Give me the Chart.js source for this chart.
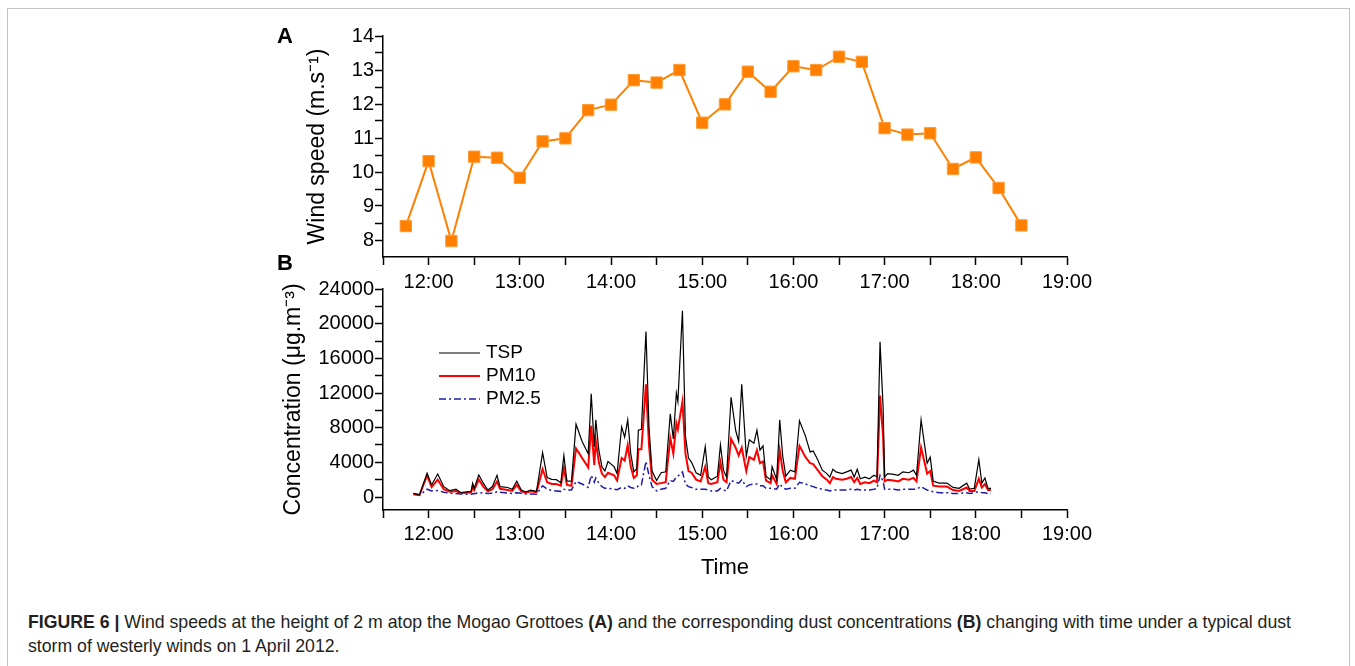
<!DOCTYPE html>
<html>
<head>
<meta charset="utf-8">
<script src="https://cdn.jsdelivr.net/npm/chart.js@4.4.1/dist/chart.umd.min.js"></script>
<style>
  body { margin: 0; background: #fff; width: 1355px; height: 666px; overflow: hidden; position: relative;
         font-family: "Liberation Sans", Arial, sans-serif; }
  #frame { position: absolute; left: 7px; top: 8px; width: 1341px; height: 700px; border: 1px solid #c4c4c4; }
  canvas { position: absolute; left: 0; }
  #chartA { top: 0; }
  #chartB { top: 260px; }
  .tag { position: absolute; left: 277px; font-weight: bold; font-size: 22px; line-height: 22px; color: #000; }
  #caption { position: absolute; left: 28px; top: 610px; font-family: "Liberation Sans", Arial, sans-serif;
             font-size: 18.5px; line-height: 24px; color: #231f20; white-space: nowrap; transform-origin: left top; }
</style>
</head>
<body>
<div id="frame"></div>
<canvas id="chartA" width="1355" height="300"></canvas>
<canvas id="chartB" width="1355" height="340"></canvas>
<div class="tag" style="top:25px">A</div>
<div class="tag" style="top:252px">B</div>
<div id="caption"><span id="capLine1"><b>FIGURE 6 |</b> Wind speeds at the height of 2 m atop the Mogao Grottoes <b>(A)</b> and the corresponding dust concentrations <b>(B)</b> changing with time under a typical dust</span><br>storm of westerly winds on 1 April 2012.</div>

<script>
// panel A: wind speed every 15 min (minutes after midnight)
const windTimes = [705, 720, 735, 750, 765, 780, 795, 810, 825, 840, 855, 870, 885, 900,
  915, 930, 945, 960, 975, 990, 1005, 1020, 1035, 1050, 1065, 1080, 1095, 1110];
const windSpeed = [8.41, 10.32, 7.97, 10.45, 10.42, 9.83, 10.9, 10.99, 11.82, 11.98, 12.7, 12.63, 13.0, 11.45,
  11.99, 12.95, 12.36, 13.11, 13.0, 13.39, 13.24, 11.29, 11.1, 11.14, 10.09, 10.43, 9.53, 8.43];

// panel B: dust concentrations (ug/m3)
const concTimes = [710, 714, 719, 722, 726, 730, 734, 738, 741, 745, 748, 749, 750, 753, 756, 759, 762, 765, 767, 772,
  775, 778, 781, 784, 787, 791, 795, 798, 801, 804, 807, 809, 811, 814, 817, 821, 825, 827, 829, 830,
  832, 834, 836, 838, 842, 844, 847, 849, 851, 853, 855, 857, 858, 860, 863, 865, 867, 870, 873, 876,
  879, 881, 883, 884, 887, 889, 891, 893, 896, 899, 902, 904, 906, 910, 912, 914, 916, 919, 922, 924,
  926, 929, 931, 934, 936, 938, 940, 942, 945, 946, 949, 951, 953, 955, 958, 961, 964, 968, 971, 973,
  976, 979, 982, 984, 986, 988, 992, 995, 998, 1000, 1002, 1004, 1007, 1010, 1013, 1015, 1017, 1019, 1020, 1022,
  1026, 1029, 1032, 1036, 1039, 1041, 1044, 1048, 1050, 1052, 1056, 1061, 1065, 1069, 1074, 1076, 1079, 1082, 1084, 1086,
  1088, 1090];
const tsp = [420, 250, 2740, 1390, 2660, 1190, 730, 900, 520, 600, 640, 1580, 1000, 2540, 1600, 800, 1200, 2500, 1200, 1100,
  900, 1810, 800, 580, 800, 650, 5120, 2230, 2040, 2000, 1650, 4780, 1850, 1800, 8400, 6400, 5000, 11900, 5800, 8900,
  5400, 3500, 3000, 4100, 3500, 2700, 8100, 6900, 8900, 5000, 2900, 3300, 7700, 7800, 19100, 8000, 3000, 1900, 2800, 2900,
  9600, 6700, 12000, 11000, 21500, 7000, 4500, 4000, 2800, 2500, 5800, 2300, 2000, 2400, 6000, 3100, 2300, 11500, 7700, 6400,
  13000, 4700, 6600, 6200, 7700, 5400, 5900, 2400, 2000, 3500, 2000, 8900, 4700, 2400, 3100, 2900, 8800, 7000, 5200, 5300,
  4300, 3100, 2700, 2300, 3200, 2900, 2700, 2900, 3100, 2300, 3200, 2100, 2300, 2100, 2500, 2300, 17900, 10400, 2300, 2700,
  2600, 2500, 2900, 2800, 3100, 2500, 8900, 3900, 4600, 1800, 1600, 1600, 1100, 1000, 1600, 900, 1000, 4300, 1600, 2200,
  1000, 1000];
const pm10 = [380, 230, 2500, 1150, 2000, 900, 600, 700, 450, 500, 550, 1300, 800, 2000, 1200, 650, 900, 1800, 950, 800,
  700, 1400, 650, 500, 650, 550, 3200, 1700, 1500, 1500, 1300, 3300, 1400, 1300, 5600, 4500, 3400, 8200, 3700, 6500,
  4000, 2700, 2300, 2800, 2500, 1900, 4500, 4200, 6000, 3500, 2200, 2500, 5500, 5500, 13000, 6000, 2000, 1500, 1600, 1700,
  6800, 5000, 8500, 7800, 11000, 5000, 3000, 2800, 2000, 1800, 3500, 1600, 1500, 1700, 4000, 2000, 1700, 6700, 5700, 4800,
  5700, 3000, 4600, 4300, 5400, 3900, 4100, 1900, 1600, 2500, 1500, 5400, 3000, 1700, 2200, 2100, 5900, 4600, 3900, 3800,
  3100, 2400, 2000, 1600, 2300, 2100, 2000, 2100, 2300, 1700, 2200, 1500, 1700, 1600, 1900, 1700, 11700, 7000, 1800, 2000,
  1900, 1800, 2100, 2000, 2200, 1800, 5700, 2700, 3000, 1300, 1200, 1200, 800, 700, 1100, 700, 700, 2100, 1100, 1500,
  800, 800];
const pm25 = [300, 200, 900, 700, 750, 550, 450, 400, 350, 330, 330, 380, 380, 500, 450, 400, 420, 600, 550, 450,
  400, 500, 420, 350, 350, 330, 1300, 900, 750, 700, 650, 900, 800, 800, 1800, 1500, 1100, 2500, 1700, 2200,
  1600, 1200, 1000, 1000, 900, 850, 1100, 1000, 1300, 1100, 1000, 1100, 1300, 1400, 4100, 2500, 1200, 700, 900, 1000,
  1900, 1800, 2300, 2400, 2900, 1500, 1200, 1100, 900, 900, 900, 800, 700, 700, 1000, 800, 700, 1900, 1700, 1600,
  2000, 1200, 1400, 1500, 1500, 1300, 1300, 1000, 1000, 1000, 900, 1500, 1100, 900, 1000, 1000, 1700, 1500, 1300, 1200,
  1000, 900, 800, 700, 800, 800, 800, 800, 900, 800, 900, 800, 800, 800, 900, 1000, 2500, 1800, 900, 900,
  900, 800, 900, 900, 900, 900, 1200, 800, 700, 600, 500, 500, 400, 400, 500, 400, 500, 600, 500, 500,
  400, 400];

// axes: labelled ticks, with one unlabelled tick halfway between each pair
const hourTicks = [720, 780, 840, 900, 960, 1020, 1080, 1140];
const windTicks = [8, 9, 10, 11, 12, 13, 14];
const concTicks = [0, 4000, 8000, 12000, 16000, 20000, 24000];

const FONT = 'Liberation Sans, Arial, sans-serif';

// squeeze the caption's first line to the width it has in the figure
const capLine = document.getElementById('capLine1');
document.getElementById('caption').style.transform =
  'scaleX(' + (1263 / capLine.getBoundingClientRect().width) + ')';

function withMinor(major, firstMinor) {
  const out = [];
  const half = (major[1] - major[0]) / 2;
  if (firstMinor) out.push({ value: major[0] - half });
  major.forEach((v, i) => {
    out.push({ value: v });
    if (i < major.length - 1) out.push({ value: v + half });
  });
  return out;
}

function clockLabel(v) {
  if (!hourTicks.includes(v)) return '';
  return (v / 60) + ':00';
}

function timeAxis(height, pad) {
  return {
    type: 'linear', min: 690, max: 1140,
    afterBuildTicks: s => { s.ticks = withMinor(hourTicks, true); },
    ticks: { autoSkip: false, maxRotation: 0, color: '#000', padding: pad,
             font: { family: FONT, size: 20 }, callback: clockLabel },
    grid: { drawOnChartArea: false, color: '#000', tickLength: 8, tickWidth: 1.5 },
    border: { color: '#000', width: 1.5 },
    afterFit: s => { s.height = height; }
  };
}

function valueAxis(min, max, keep, width, title) {
  return {
    min: min, max: max,
    afterBuildTicks: s => { s.ticks = withMinor(keep, false); },
    ticks: { autoSkip: false, color: '#000', padding: 1,
             font: { family: FONT, size: 20 },
             callback: v => keep.includes(v) ? String(v) : '' },
    grid: { drawOnChartArea: false, color: '#000', tickLength: 8, tickWidth: 1.5 },
    border: { color: '#000', width: 1.5 },
    title: { display: true, text: title, color: '#000', font: { family: FONT, size: 23 } },
    afterFit: s => { s.width = width; }
  };
}

new Chart(document.getElementById('chartA'), {
  type: 'line',
  data: {
    datasets: [{
      label: 'Wind speed',
      data: windTimes.map((t, i) => ({ x: t, y: windSpeed[i] })),
      borderColor: '#ff8000',
      backgroundColor: '#ff8000',
      borderWidth: 2,
      pointStyle: 'rect',
      pointRadius: 8,
      pointBorderWidth: 1,
      pointBorderColor: '#ff9a33',
      tension: 0
    }]
  },
  options: {
    responsive: false,
    animation: false,
    clip: false,
    layout: { padding: { left: 300, right: 288, top: 36, bottom: 3 } },
    plugins: { legend: { display: false }, tooltip: { enabled: false } },
    scales: {
      x: timeAxis(40, 5),
      y: valueAxis(7.5, 14, windTicks, 83, 'Wind speed (m.s\u207B\u00B9)')
    }
  }
});

// legend drawn inside the plot area, like the original figure
const innerLegend = {
  id: 'innerLegend',
  afterDatasetsDraw(chart) {
    const ctx = chart.ctx;
    ctx.save();
    chart.data.datasets.forEach((ds, i) => {
      const y = 93 + i * 23;
      ctx.beginPath();
      ctx.strokeStyle = ds.borderColor;
      ctx.lineWidth = ds.borderWidth;
      ctx.setLineDash(ds.borderDash || []);
      ctx.moveTo(439, y);
      ctx.lineTo(480, y);
      ctx.stroke();
      ctx.setLineDash([]);
      ctx.fillStyle = '#000';
      ctx.font = '19px ' + FONT;
      ctx.textBaseline = 'middle';
      ctx.fillText(ds.label, 486, y);
    });
    ctx.restore();
  }
};

new Chart(document.getElementById('chartB'), {
  type: 'line',
  data: {
    datasets: [
      { label: 'TSP', data: concTimes.map((t, i) => ({ x: t, y: tsp[i] })),
        borderColor: '#000', borderWidth: 1.2, pointRadius: 0, tension: 0 },
      { label: 'PM10', data: concTimes.map((t, i) => ({ x: t, y: pm10[i] })),
        borderColor: '#ff0000', borderWidth: 2, pointRadius: 0, tension: 0 },
      { label: 'PM2.5', data: concTimes.map((t, i) => ({ x: t, y: pm25[i] })),
        borderColor: '#1c1ca8', borderWidth: 1.5, borderDash: [7, 3, 2, 3], pointRadius: 0, tension: 0 }
    ]
  },
  options: {
    responsive: false,
    animation: false,
    layout: { padding: { left: 276, right: 288, top: 29, bottom: 15 } },
    plugins: { legend: { display: false }, tooltip: { enabled: false } },
    scales: {
      x: Object.assign(timeAxis(75, 4), {
        title: { display: true, text: 'Time', color: '#000', font: { family: FONT, size: 22 } }
      }),
      y: valueAxis(-1500, 24000, concTicks, 107, 'Concentration (\u03BCg.m\u207B\u00B3)')
    }
  },
  plugins: [innerLegend]
});
</script>
</body>
</html>
